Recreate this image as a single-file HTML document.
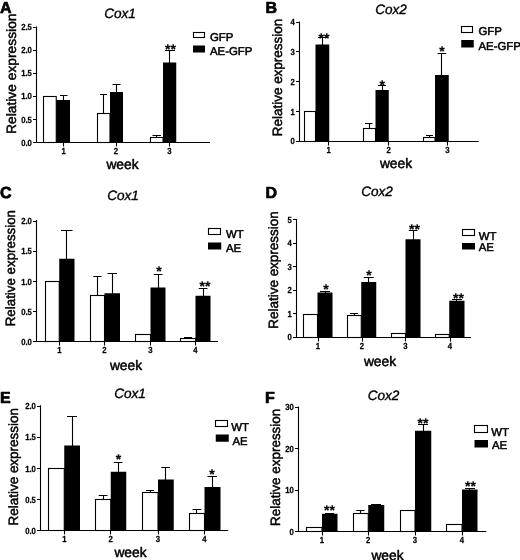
<!DOCTYPE html>
<html lang="en"><head><meta charset="utf-8"><title>Cox1 / Cox2 relative expression</title>
<style>html,body{margin:0;padding:0;background:#fff;}body{width:520px;height:560px;overflow:hidden;}svg{display:block;}
text{font-family:"Liberation Sans", Arial, sans-serif;fill:#000;stroke:#000;stroke-width:0.3px;stroke-linejoin:round;text-rendering:geometricPrecision;}
.tk{font-size:8.8px;font-weight:bold;stroke-width:0.25px;}
.lg{font-size:11.4px;stroke-width:0.5px;}
.tt{font-size:13.6px;font-style:italic;stroke-width:0.35px;}
.ax{font-size:13.5px;stroke-width:0.5px;}
.wk{font-size:13.8px;stroke-width:0.5px;}
.pl{font-size:16px;font-weight:bold;stroke-width:0.7px;}
.st{font-size:14px;font-weight:bold;stroke-width:0.2px;}
.ln{stroke:#000;stroke-width:1.1;fill:none;}
.wb{stroke:#000;stroke-width:1.1;fill:#fff;}
.bb{stroke:#000;stroke-width:1.1;fill:#000;}
</style></head><body>
<svg width="520" height="560" viewBox="0 0 520 560" style="will-change:transform;filter:blur(0.35px)">
<g id="panel-A">
<text class="pl" x="0" y="12.5">A</text>
<text class="tt" x="120" y="17.5" text-anchor="middle">Cox1</text>
<path class="ln" d="M63.5 100.5 V95.5 M60 95.5 H67.5"/>
<path class="ln" d="M103.5 113.5 V94.5 M100 94.5 H107"/>
<path class="ln" d="M116.5 92.5 V84.5 M112.5 84.5 H120.5"/>
<path class="ln" d="M156.5 137.5 V135.5 M152.5 135.5 H161"/>
<path class="ln" d="M169.5 63 V50.5 M165 50.5 H175"/>
<rect class="wb" x="43.5" y="96.5" width="12.75" height="46"/>
<rect x="56.25" y="100" width="13.75" height="42.5" fill="#000"/>
<rect class="wb" x="97.5" y="113.5" width="12.5" height="29"/>
<rect x="110" y="92" width="13" height="50.5" fill="#000"/>
<rect class="wb" x="150.5" y="137.5" width="12.5" height="5"/>
<rect x="163" y="62.5" width="13.25" height="80" fill="#000"/>
<path class="ln" d="M36.5 26.5 V142.5 H210"/>
<path class="ln" d="M36.5 27.5 h-3.5 M36.5 50.5 h-3.5 M36.5 73.5 h-3.5 M36.5 96.5 h-3.5 M36.5 119.5 h-3.5 M36.5 142.5 h-3.5"/>
<text class="tk" transform="translate(31.9 30.1) scale(0.88 1)" text-anchor="end">2.5</text>
<text class="tk" transform="translate(31.9 53.2) scale(0.88 1)" text-anchor="end">2.0</text>
<text class="tk" transform="translate(31.9 76.3) scale(0.88 1)" text-anchor="end">1.5</text>
<text class="tk" transform="translate(31.9 99.4) scale(0.88 1)" text-anchor="end">1.0</text>
<text class="tk" transform="translate(31.9 122.5) scale(0.88 1)" text-anchor="end">0.5</text>
<text class="tk" transform="translate(31.9 145.6) scale(0.88 1)" text-anchor="end">0.0</text>
<path class="ln" d="M63.5 142.5 v4 M116.5 142.5 v4 M169.5 142.5 v4"/>
<text class="tk" transform="translate(63.75 154.3) scale(0.88 1)" text-anchor="middle">1</text>
<text class="tk" transform="translate(116 154.3) scale(0.88 1)" text-anchor="middle">2</text>
<text class="tk" transform="translate(169.5 154.3) scale(0.88 1)" text-anchor="middle">3</text>
<text class="st" x="170.5" y="54.08" text-anchor="middle">**</text>
<rect class="wb" x="193.5" y="32.5" width="11" height="5"/>
<rect x="193" y="45.5" width="12" height="7" fill="#000"/>
<text class="lg" x="210" y="41">GFP</text>
<text class="lg" x="210" y="54.5">AE-GFP</text>
<text class="ax" transform="translate(15.5 73.75) rotate(-90)" text-anchor="middle" textLength="120.5" lengthAdjust="spacingAndGlyphs">Relative expression</text>
<text class="wk" x="122.5" y="168.75" text-anchor="middle">week</text>
</g>
<g id="panel-B">
<text class="pl" x="265.5" y="12.5">B</text>
<text class="tt" x="391" y="14" text-anchor="middle">Cox2</text>
<path class="ln" d="M322.5 45 V37.5 M318 37.5 H327"/>
<path class="ln" d="M369.5 128.75 V123.5 M365 123.5 H372.5"/>
<path class="ln" d="M382.5 90.5 V85.5 M378 85.5 H386"/>
<path class="ln" d="M429.5 137.5 V135.5 M426 135.5 H433"/>
<path class="ln" d="M441.5 75.5 V53.5 M437.5 53.5 H446.25"/>
<rect class="wb" x="304.5" y="111.5" width="11" height="30"/>
<rect x="315.5" y="44.5" width="13.75" height="97" fill="#000"/>
<rect class="wb" x="363.5" y="128.5" width="12" height="13"/>
<rect x="375.5" y="90" width="13.25" height="51.5" fill="#000"/>
<rect class="wb" x="423.5" y="137.5" width="11.5" height="4"/>
<rect x="435" y="75" width="13.75" height="66.5" fill="#000"/>
<path class="ln" d="M299.5 21.5 V141.5 H478.75"/>
<path class="ln" d="M299.5 22.5 h-3.5 M299.5 51.5 h-3.5 M299.5 81.5 h-3.5 M299.5 111.5 h-3.5 M299.5 141.5 h-3.5"/>
<text class="tk" transform="translate(294.9 25.1) scale(0.88 1)" text-anchor="end">4</text>
<text class="tk" transform="translate(294.9 54.9) scale(0.88 1)" text-anchor="end">3</text>
<text class="tk" transform="translate(294.9 84.7) scale(0.88 1)" text-anchor="end">2</text>
<text class="tk" transform="translate(294.9 114.5) scale(0.88 1)" text-anchor="end">1</text>
<text class="tk" transform="translate(294.9 144.35) scale(0.88 1)" text-anchor="end">0</text>
<path class="ln" d="M328.5 141.5 v4 M388.5 141.5 v4 M447.5 141.5 v4"/>
<text class="tk" transform="translate(328.75 153.3) scale(0.88 1)" text-anchor="middle">1</text>
<text class="tk" transform="translate(388.75 153.3) scale(0.88 1)" text-anchor="middle">2</text>
<text class="tk" transform="translate(447.5 153.3) scale(0.88 1)" text-anchor="middle">3</text>
<text class="st" x="324" y="42.58" text-anchor="middle">**</text>
<text class="st" x="382.25" y="89.58" text-anchor="middle">*</text>
<text class="st" x="442" y="56.33" text-anchor="middle">*</text>
<rect class="wb" x="461.5" y="26.5" width="11" height="6"/>
<rect x="461.25" y="40" width="12.5" height="7.5" fill="#000"/>
<text class="lg" x="478.5" y="35">GFP</text>
<text class="lg" x="478.5" y="49.5">AE-GFP</text>
<text class="ax" transform="translate(282.3 77.5) rotate(-90)" text-anchor="middle" textLength="117.5" lengthAdjust="spacingAndGlyphs">Relative expression</text>
<text class="wk" x="396" y="168" text-anchor="middle">week</text>
</g>
<g id="panel-C">
<text class="pl" x="0" y="197.5">C</text>
<text class="tt" x="123" y="200" text-anchor="middle">Cox1</text>
<path class="ln" d="M66.5 259.25 V230.5 M61 230.5 H72.5"/>
<path class="ln" d="M97.5 296.25 V276.5 M93.2 276.5 H101.5"/>
<path class="ln" d="M112.5 293.75 V273.5 M107.5 273.5 H117"/>
<path class="ln" d="M158.5 288 V274.5 M153.75 274.5 H162.5"/>
<path class="ln" d="M188.5 338.5 V337.5 M184 337.5 H192"/>
<path class="ln" d="M203.5 296.25 V288.5 M198.75 288.5 H207.5"/>
<rect class="wb" x="45.5" y="281.5" width="13.75" height="60"/>
<rect x="59.25" y="258.75" width="15.25" height="82.75" fill="#000"/>
<rect class="wb" x="90.5" y="295.5" width="14" height="46"/>
<rect x="104.5" y="293.25" width="15.5" height="48.25" fill="#000"/>
<rect class="wb" x="135.5" y="334.5" width="15" height="7"/>
<rect x="150.5" y="287.5" width="15" height="54" fill="#000"/>
<rect class="wb" x="180.5" y="338.5" width="15" height="3"/>
<rect x="195.5" y="295.75" width="15" height="45.75" fill="#000"/>
<path class="ln" d="M36.5 220 V341.5 H218"/>
<path class="ln" d="M36.5 221.5 h-3.5 M36.5 251.5 h-3.5 M36.5 281.5 h-3.5 M36.5 311.5 h-3.5 M36.5 341.5 h-3.5"/>
<text class="tk" transform="translate(31.9 224.1) scale(0.88 1)" text-anchor="end">2.0</text>
<text class="tk" transform="translate(31.9 254.3) scale(0.88 1)" text-anchor="end">1.5</text>
<text class="tk" transform="translate(31.9 284.5) scale(0.88 1)" text-anchor="end">1.0</text>
<text class="tk" transform="translate(31.9 314.7) scale(0.88 1)" text-anchor="end">0.5</text>
<text class="tk" transform="translate(31.9 344.85) scale(0.88 1)" text-anchor="end">0.0</text>
<path class="ln" d="M59.5 341.5 v4 M104.5 341.5 v4 M150.5 341.5 v4 M195.5 341.5 v4"/>
<text class="tk" transform="translate(59.5 353.3) scale(0.88 1)" text-anchor="middle">1</text>
<text class="tk" transform="translate(104.5 353.3) scale(0.88 1)" text-anchor="middle">2</text>
<text class="tk" transform="translate(150.5 353.3) scale(0.88 1)" text-anchor="middle">3</text>
<text class="tk" transform="translate(195.5 353.3) scale(0.88 1)" text-anchor="middle">4</text>
<text class="st" x="159" y="276.08" text-anchor="middle">*</text>
<text class="st" x="205" y="291.08" text-anchor="middle">**</text>
<rect class="wb" x="208.5" y="228.5" width="12" height="6"/>
<rect x="208" y="242.5" width="13.25" height="7" fill="#000"/>
<text class="lg" x="226" y="238">WT</text>
<text class="lg" x="226" y="251.75">AE</text>
<text class="ax" transform="translate(15.2 268.12) rotate(-90)" text-anchor="middle" textLength="116.25" lengthAdjust="spacingAndGlyphs">Relative expression</text>
<text class="wk" x="126" y="369.5" text-anchor="middle">week</text>
</g>
<g id="panel-D">
<text class="pl" x="265.5" y="197.5">D</text>
<text class="tt" x="377" y="196" text-anchor="middle">Cox2</text>
<path class="ln" d="M325.5 293 V291.5 M320 291.5 H330"/>
<path class="ln" d="M354.5 316 V313.5 M350 313.5 H358"/>
<path class="ln" d="M368.5 282.5 V277.5 M363.75 277.5 H373.75"/>
<path class="ln" d="M413.5 239.75 V230.5 M408.75 230.5 H417.5"/>
<path class="ln" d="M456.5 301.25 V299.5 M452 299.5 H462"/>
<rect class="wb" x="303.5" y="314.5" width="14" height="23"/>
<rect x="317.5" y="292.5" width="15" height="45" fill="#000"/>
<rect class="wb" x="347.5" y="315.5" width="13.75" height="22"/>
<rect x="361.25" y="282" width="15" height="55.5" fill="#000"/>
<rect class="wb" x="391.5" y="333.5" width="14" height="4"/>
<rect x="405.5" y="239.25" width="15" height="98.25" fill="#000"/>
<rect class="wb" x="435.5" y="334.5" width="13.75" height="3"/>
<rect x="449.25" y="300.75" width="15.25" height="36.75" fill="#000"/>
<path class="ln" d="M296.5 219 V337.5 H471"/>
<path class="ln" d="M296.5 219.5 h-3.5 M296.5 243.5 h-3.5 M296.5 266.5 h-3.5 M296.5 290.5 h-3.5 M296.5 313.5 h-3.5 M296.5 337.5 h-3.5"/>
<text class="tk" transform="translate(291.9 222.6) scale(0.88 1)" text-anchor="end">5</text>
<text class="tk" transform="translate(291.9 246.1) scale(0.88 1)" text-anchor="end">4</text>
<text class="tk" transform="translate(291.9 269.6) scale(0.88 1)" text-anchor="end">3</text>
<text class="tk" transform="translate(291.9 293.1) scale(0.88 1)" text-anchor="end">2</text>
<text class="tk" transform="translate(291.9 316.6) scale(0.88 1)" text-anchor="end">1</text>
<text class="tk" transform="translate(291.9 340.1) scale(0.88 1)" text-anchor="end">0</text>
<path class="ln" d="M318.5 337.5 v4 M362.5 337.5 v4 M405.5 337.5 v4 M450.5 337.5 v4"/>
<text class="tk" transform="translate(318 349.3) scale(0.88 1)" text-anchor="middle">1</text>
<text class="tk" transform="translate(362 349.3) scale(0.88 1)" text-anchor="middle">2</text>
<text class="tk" transform="translate(405.5 349.3) scale(0.88 1)" text-anchor="middle">3</text>
<text class="tk" transform="translate(450 349.3) scale(0.88 1)" text-anchor="middle">4</text>
<text class="st" x="326" y="294.33" text-anchor="middle">*</text>
<text class="st" x="369" y="280.08" text-anchor="middle">*</text>
<text class="st" x="414.5" y="233.83" text-anchor="middle">**</text>
<text class="st" x="458.5" y="303.08" text-anchor="middle">**</text>
<rect class="wb" x="462.5" y="229.5" width="12" height="6"/>
<rect x="462" y="243" width="13" height="6.5" fill="#000"/>
<text class="lg" x="478.75" y="239.5">WT</text>
<text class="lg" x="478.75" y="251.25">AE</text>
<text class="ax" transform="translate(278.3 270) rotate(-90)" text-anchor="middle" textLength="117.5" lengthAdjust="spacingAndGlyphs">Relative expression</text>
<text class="wk" x="380" y="365.5" text-anchor="middle">week</text>
</g>
<g id="panel-E">
<text class="pl" x="0" y="402.5">E</text>
<text class="tt" x="130" y="398" text-anchor="middle">Cox1</text>
<path class="ln" d="M72.5 446 V416.5 M67 416.5 H77"/>
<path class="ln" d="M103.5 500 V495.5 M98.75 495.5 H107.5"/>
<path class="ln" d="M118.5 472.25 V462.5 M113.75 462.5 H122.5"/>
<path class="ln" d="M150.5 492.5 V490.5 M146 490.5 H154"/>
<path class="ln" d="M165.5 480 V467.5 M161.25 467.5 H170"/>
<path class="ln" d="M196.5 514.25 V509.5 M192.5 509.5 H201.25"/>
<path class="ln" d="M212.5 487.5 V476.5 M207.5 476.5 H217"/>
<rect class="wb" x="48.5" y="468.5" width="15.75" height="62"/>
<rect x="64.25" y="445.5" width="15.75" height="85" fill="#000"/>
<rect class="wb" x="95.5" y="499.5" width="15.25" height="31"/>
<rect x="110.75" y="471.75" width="15.5" height="58.75" fill="#000"/>
<rect class="wb" x="142.5" y="492.5" width="15.5" height="38"/>
<rect x="158" y="479.5" width="15.75" height="51" fill="#000"/>
<rect class="wb" x="189.5" y="513.5" width="15" height="17"/>
<rect x="204.5" y="487" width="16" height="43.5" fill="#000"/>
<path class="ln" d="M40.5 405.25 V530.5 H228.25"/>
<path class="ln" d="M40.5 406.5 h-3.5 M40.5 437.5 h-3.5 M40.5 468.5 h-3.5 M40.5 499.5 h-3.5 M40.5 530.5 h-3.5"/>
<text class="tk" transform="translate(35.9 409.1) scale(0.88 1)" text-anchor="end">2.0</text>
<text class="tk" transform="translate(35.9 440.3) scale(0.88 1)" text-anchor="end">1.5</text>
<text class="tk" transform="translate(35.9 471.5) scale(0.88 1)" text-anchor="end">1.0</text>
<text class="tk" transform="translate(35.9 502.7) scale(0.88 1)" text-anchor="end">0.5</text>
<text class="tk" transform="translate(35.9 533.85) scale(0.88 1)" text-anchor="end">0.0</text>
<path class="ln" d="M64.5 530.5 v4 M110.5 530.5 v4 M158.5 530.5 v4 M204.5 530.5 v4"/>
<text class="tk" transform="translate(64.5 542.3) scale(0.88 1)" text-anchor="middle">1</text>
<text class="tk" transform="translate(110.75 542.3) scale(0.88 1)" text-anchor="middle">2</text>
<text class="tk" transform="translate(158 542.3) scale(0.88 1)" text-anchor="middle">3</text>
<text class="tk" transform="translate(204.5 542.3) scale(0.88 1)" text-anchor="middle">4</text>
<text class="st" x="118.5" y="463.83" text-anchor="middle">*</text>
<text class="st" x="212" y="478.83" text-anchor="middle">*</text>
<rect class="wb" x="215.5" y="420.5" width="12" height="6"/>
<rect x="215.75" y="434.5" width="13" height="7.25" fill="#000"/>
<text class="lg" x="231.25" y="430.75">WT</text>
<text class="lg" x="232.5" y="444.5">AE</text>
<text class="ax" transform="translate(17.5 466.75) rotate(-90)" text-anchor="middle" textLength="117.5" lengthAdjust="spacingAndGlyphs">Relative expression</text>
<text class="wk" x="130.5" y="557" text-anchor="middle">week</text>
</g>
<g id="panel-F">
<text class="pl" x="265" y="402.5">F</text>
<text class="tt" x="383.5" y="399.5" text-anchor="middle">Cox2</text>
<path class="ln" d="M329.5 514.25 V513.5 M325 513.5 H334"/>
<path class="ln" d="M360.5 514.25 V510.5 M356.25 510.5 H364.5"/>
<path class="ln" d="M376.5 505.5 V504.5 M371 504.5 H381"/>
<path class="ln" d="M407.5 511.25 V510.5 M403 510.5 H412"/>
<path class="ln" d="M423.5 431.25 V424.5 M418 424.5 H428"/>
<path class="ln" d="M469.5 490 V488.5 M465 488.5 H475"/>
<rect class="wb" x="306.5" y="527.5" width="15.5" height="4"/>
<rect x="322" y="513.75" width="15.5" height="17.75" fill="#000"/>
<rect class="wb" x="353.5" y="513.5" width="14.75" height="18"/>
<rect x="368.25" y="505" width="16" height="26.5" fill="#000"/>
<rect class="wb" x="400.5" y="510.5" width="14.5" height="21"/>
<rect x="415" y="430.75" width="16.25" height="100.75" fill="#000"/>
<rect class="wb" x="446.5" y="524.5" width="15.5" height="7"/>
<rect x="462" y="489.5" width="15.5" height="42" fill="#000"/>
<path class="ln" d="M298.5 406.5 V531.5 H486.25"/>
<path class="ln" d="M298.5 407.5 h-3.5 M298.5 448.5 h-3.5 M298.5 490.5 h-3.5 M298.5 531.5 h-3.5"/>
<text class="tk" transform="translate(293.9 410.1) scale(0.88 1)" text-anchor="end">30</text>
<text class="tk" transform="translate(293.9 451.7) scale(0.88 1)" text-anchor="end">20</text>
<text class="tk" transform="translate(293.9 493.3) scale(0.88 1)" text-anchor="end">10</text>
<text class="tk" transform="translate(293.9 534.85) scale(0.88 1)" text-anchor="end">0</text>
<path class="ln" d="M322.5 531.5 v4 M368.5 531.5 v4 M415.5 531.5 v4 M462.5 531.5 v4"/>
<text class="tk" transform="translate(322 543.3) scale(0.88 1)" text-anchor="middle">1</text>
<text class="tk" transform="translate(368.25 543.3) scale(0.88 1)" text-anchor="middle">2</text>
<text class="tk" transform="translate(415 543.3) scale(0.88 1)" text-anchor="middle">3</text>
<text class="tk" transform="translate(462 543.3) scale(0.88 1)" text-anchor="middle">4</text>
<text class="st" x="329.5" y="515.08" text-anchor="middle">**</text>
<text class="st" x="423" y="427.58" text-anchor="middle">**</text>
<text class="st" x="470.5" y="491.33" text-anchor="middle">**</text>
<rect class="wb" x="474.5" y="425.5" width="13" height="7"/>
<rect x="474.5" y="440" width="13.5" height="7.5" fill="#000"/>
<text class="lg" x="491.25" y="435.5">WT</text>
<text class="lg" x="492" y="448.75">AE</text>
<text class="ax" transform="translate(279.5 467.38) rotate(-90)" text-anchor="middle" textLength="117.25" lengthAdjust="spacingAndGlyphs">Relative expression</text>
<text class="wk" x="387.5" y="559.5" text-anchor="middle">week</text>
</g>
</svg></body></html>
